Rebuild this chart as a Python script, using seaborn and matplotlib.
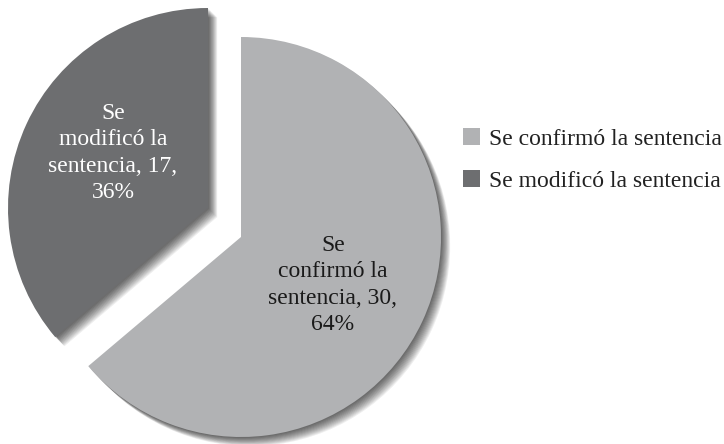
import matplotlib
matplotlib.use("Agg")
import matplotlib.pyplot as plt
from matplotlib.patches import Shadow
import seaborn as sns

# datos
categorias = ["Se confirmó la sentencia", "Se modificó la sentencia"]
valores = [30, 17]
colores = ["#b1b2b4", "#6d6e70"]
color_texto = ["#1a1a1a", "#ffffff"]

total = sum(valores)
porcentajes = [round(v * 100 / total) for v in valores]


def etiqueta(cat, v, p):
    w = cat.split()
    return f"{w[0]}\n{w[1]} {w[2]}\n{w[3]}, {v},\n{p}%"


etiquetas = [etiqueta(c, v, p) for c, v, p in zip(categorias, valores, porcentajes)]

sns.set_theme(style="white")
plt.rcParams["font.family"] = "serif"
plt.rcParams["font.serif"] = ["Liberation Serif", "DejaVu Serif"]

fig = plt.figure(figsize=(7.24, 4.44), dpi=100)
ax = fig.add_axes([0, 0, 1, 1])

wedges, _ = ax.pie(valores, colors=colores, startangle=90, counterclock=False,
                   radius=200, center=(241, 207),
                   wedgeprops=dict(linewidth=0, edgecolor="none"))

# la porcion oscura va separada hacia arriba a la izquierda
cx, cy = wedges[1].center
wedges[1].set_center((cx - 33, cy + 29))

# sombra difuminada
for w in wedges:
    for k in range(1, 13):
        ax.add_patch(Shadow(w, k * 0.55, -k * 0.55, facecolor="black",
                            edgecolor="none", alpha=0.065))

pos_etiquetas = [(333, 159), (113, 291)]
for txt, (x, y), c in zip(etiquetas, pos_etiquetas, color_texto):
    ax.text(x, y, txt, ha="center", va="center", color=c, fontsize=17,
            linespacing=1.32, zorder=5)

ax.legend(wedges, categorias, loc="center left", bbox_to_anchor=(463, 284),
          bbox_transform=ax.transData, frameon=False, fontsize=17,
          handlelength=0.7, handleheight=0.7, handletextpad=0.4,
          labelspacing=0.85, borderpad=0, borderaxespad=0,
          labelcolor="#222222")

ax.set_xlim(0, 724)
ax.set_ylim(0, 444)
ax.set_aspect("equal")
ax.axis("off")

fig.savefig("out.png", dpi=100, facecolor="white")
